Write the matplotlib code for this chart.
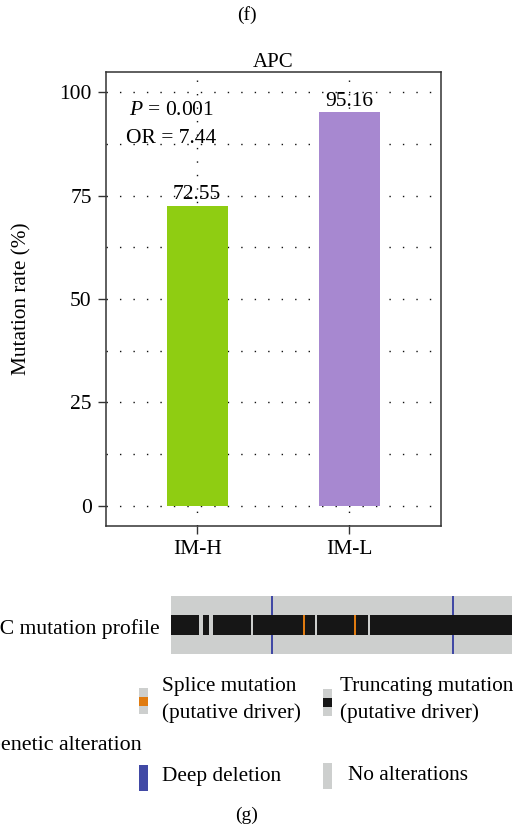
import matplotlib
matplotlib.use("Agg")
import matplotlib.pyplot as plt
from matplotlib.patches import Rectangle

plt.rcParams['font.family'] = ['Liberation Serif', 'DejaVu Serif']
plt.rcParams['mathtext.fontset'] = 'custom'
plt.rcParams['mathtext.rm'] = 'Liberation Serif'
plt.rcParams['mathtext.it'] = 'Liberation Serif:italic'

# bar chart data
groups = ["IM-H", "IM-L"]
rates = [72.55, 95.16]
bar_colors = ["#8fcd12", "#a788d0"]
p_value = "0.001"
odds_ratio = "7.44"
y_ticks = [0, 25, 50, 75, 100]

# oncoprint data (sample indices)
n_samples = 170
no_alteration = [14, 15, 19, 20, 40, 72, 98]
splice = [66, 91]
deep_deletion = [50, 140]

GRAY = "#cdcfce"
BLACK = "#161616"
ORANGE = "#e07b10"
BLUE = "#4149a5"

W, H = 520, 827
fig = plt.figure(figsize=(W / 100, H / 100), dpi=100)

# ---- bar chart ----
ax = fig.add_axes([105.7 / W, 1 - 525.7 / H, 335 / W, 453.4 / H])
x = list(range(len(groups)))
ax.bar(x, rates, width=0.4, color=bar_colors, zorder=2)
ax.set_xlim(-0.6, 1.6)
ax.set_ylim(-4.85, 104.85)
ax.set_xticks(x)
ax.set_xticklabels(groups)
ax.set_yticks(y_ticks)
ax.set_yticks([12.5, 37.5, 62.5, 87.5], minor=True)
ax.tick_params(axis='both', which='major', labelsize=15.5, length=6, width=1,
               color='#333333', direction='out', pad=4)
ax.tick_params(axis='y', which='minor', length=0)
ax.set_axisbelow(True)
ax.grid(True, which='both', axis='y', color='#111111', lw=1.0, linestyle=(0, (1, 8.7)))
ax.grid(True, which='major', axis='x', color='#111111', lw=1.0, linestyle=(0, (1, 8.7)))
for s in ax.spines.values():
    s.set_linewidth(1.1)
    s.set_color('#333333')
ax.set_title("APC", fontsize=15, pad=4)
fig.text(22 / W, 1 - 298.5 / H, "Mutation rate (%)", rotation=90,
         ha='center', va='center', fontsize=15.3)

for xi, r in zip(x, rates):
    ax.annotate(f"{r:.2f}", (xi, r), xytext=(0, 1), textcoords='offset points',
                ha='center', va='bottom', fontsize=15.5)

ax.text(-0.17, 95.7, f"$P$ = {p_value}", ha='center', va='center', fontsize=15.5)
ax.text(-0.17, 88.9, f"OR = {odds_ratio}", ha='center', va='center', fontsize=15.5)

fig.text(247 / W, 1 - 15 / H, "(f)", ha='center', va='center', fontsize=14)

# ---- mutation profile track ----
ax2 = fig.add_axes([171 / W, 1 - 653.7 / H, 341 / W, 57.7 / H])
samples = list(range(n_samples))
ax2.bar(samples, [1] * n_samples, width=1.0, align='edge', bottom=0, color=GRAY, lw=0)
ax2.bar(deep_deletion, [1] * len(deep_deletion), width=1.0, align='edge', color=BLUE, lw=0)
truncating = [s for s in samples if s not in no_alteration and s not in splice]
ax2.bar(truncating, [0.345] * len(truncating), width=1.0, align='edge', bottom=0.33,
        color=BLACK, lw=0)
ax2.bar(splice, [0.345] * len(splice), width=1.0, align='edge', bottom=0.33,
        color=ORANGE, lw=0)
ax2.set_xlim(0, n_samples)
ax2.set_ylim(0, 1)
ax2.axis('off')

# ---- legend / labels overlay in pixel coords ----
ov = fig.add_axes([0, 0, 1, 1])
ov.set_xlim(0, W)
ov.set_ylim(H, 0)
ov.axis('off')

ov.text(160, 629, "APC mutation profile", ha='right', va='center', fontsize=15.6)
ov.text(142, 746, "Genetic alteration", ha='right', va='center', fontsize=15.8)

# splice
ov.add_patch(Rectangle((139, 688), 9, 26, color=GRAY, lw=0))
ov.add_patch(Rectangle((139, 697), 9, 8.7, color=ORANGE, lw=0))
ov.text(162, 687, "Splice mutation", ha='left', va='center', fontsize=15.3)
ov.text(162, 713, "(putative driver)", ha='left', va='center', fontsize=15.3)
# truncating
ov.add_patch(Rectangle((323, 689), 9, 27, color=GRAY, lw=0))
ov.add_patch(Rectangle((323, 698), 9, 9, color=BLACK, lw=0))
ov.text(340, 687, "Truncating mutation", ha='left', va='center', fontsize=15.3)
ov.text(340, 713, "(putative driver)", ha='left', va='center', fontsize=15.3)
# deep deletion
ov.add_patch(Rectangle((139, 765), 9, 25.7, color=BLUE, lw=0))
ov.text(162, 776, "Deep deletion", ha='left', va='center', fontsize=15.3)
# no alterations
ov.add_patch(Rectangle((323, 762.7), 9, 26.6, color=GRAY, lw=0))
ov.text(347.7, 776, "No alterations", ha='left', va='center', fontsize=15.3)

ov.text(247, 815, "(g)", ha='center', va='center', fontsize=14)

fig.savefig("out.png", dpi=100)
